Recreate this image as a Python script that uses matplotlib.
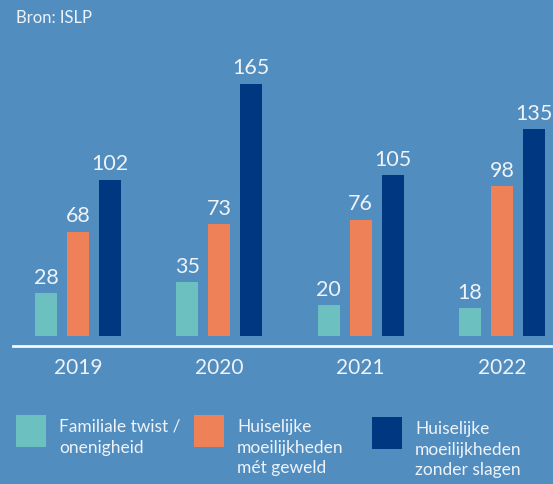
"""
Huiselijk geweld meldingen per jaar (bron: ISLP) — grouped bar chart.
"""
import matplotlib
matplotlib.use("Agg")
import matplotlib.pyplot as plt
from matplotlib.patches import Rectangle
import numpy as np

# ── Data ─────────────────────────────────────────────────────────────────────
years = ["2019", "2020", "2021", "2022"]
familiale_twist = [28, 35, 20, 18]
met_geweld = [68, 73, 76, 98]
zonder_slagen = [102, 165, 105, 135]

series_labels = [
    "Familiale twist /\nonenigheid",
    "Huiselijke\nmoeilijkheden\nmét geweld",
    "Huiselijke\nmoeilijkheden\nzonder slagen",
]

# ── Style ────────────────────────────────────────────────────────────────────
BG = "#528dc0"
TEXT = "#eef3f8"
COLORS = ["#6cc0bf", "#ef8158", "#003781"]
FONT = ["Lato", "DejaVu Sans"]

plt.rcParams["font.family"] = FONT

W, H = 553, 484
fig = plt.figure(figsize=(W / 100, H / 100), dpi=100, facecolor=BG)

# bar axes: full width, baseline at y=336 px from the top
base_px = 336
ax = fig.add_axes([0, (H - base_px) / H, 1, base_px / H])
ax.set_facecolor(BG)
ax.patch.set_alpha(0)
for s in ax.spines.values():
    s.set_visible(False)
ax.set_xticks([])
ax.set_yticks([])

px_per_unit = 1.53
group_px = 141.3
first_center = 78
ax.set_ylim(0, base_px / px_per_unit)
ax.set_xlim(-first_center / group_px, (W - first_center) / group_px)

x = np.arange(len(years))
width = 22 / group_px
offset = 32 / group_px

for i, vals in enumerate([familiale_twist, met_geweld, zonder_slagen]):
    pos = x + (i - 1) * offset
    bars = ax.bar(pos, vals, width=width, color=COLORS[i], linewidth=0)
    for b, v in zip(bars, vals):
        ax.annotate(str(v), xy=(b.get_x() + b.get_width() / 2, v),
                    xytext=(0, 4), textcoords="offset points",
                    ha="center", va="bottom", fontsize=15.5, color=TEXT)

# axis line below the bars
line_y = -10 / px_per_unit
ax.axhline(line_y, xmin=13 / W, xmax=1, color="#f4f7fb", linewidth=2,
           clip_on=False)

# year labels
for xi, yr in zip(x, years):
    ax.text(xi, -32 / px_per_unit, yr, ha="center", va="center",
            fontsize=15, color=TEXT, clip_on=False)

# source
fig.text(16 / W, 1 - 18 / H, "Bron: ISLP", ha="left", va="center",
         fontsize=12, color=TEXT)

# ── Legend ──────────────────────────────────────────────────────────────────
box_x = [16, 194, 372]
box_y = [415, 415, 417]
text_x = [59, 237, 415]
for bx, by, tx, c, lab in zip(box_x, box_y, text_x, COLORS, series_labels):
    fig.add_artist(Rectangle((bx / W, 1 - (by + 32) / H), 30 / W, 32 / H,
                             transform=fig.transFigure, color=c, linewidth=0))
    fig.text(tx / W, 1 - (by + 4) / H, lab, ha="left", va="top",
             fontsize=12.5, color=TEXT, linespacing=1.35)

fig.savefig("out.png", dpi=100, facecolor=BG)
plt.close(fig)
